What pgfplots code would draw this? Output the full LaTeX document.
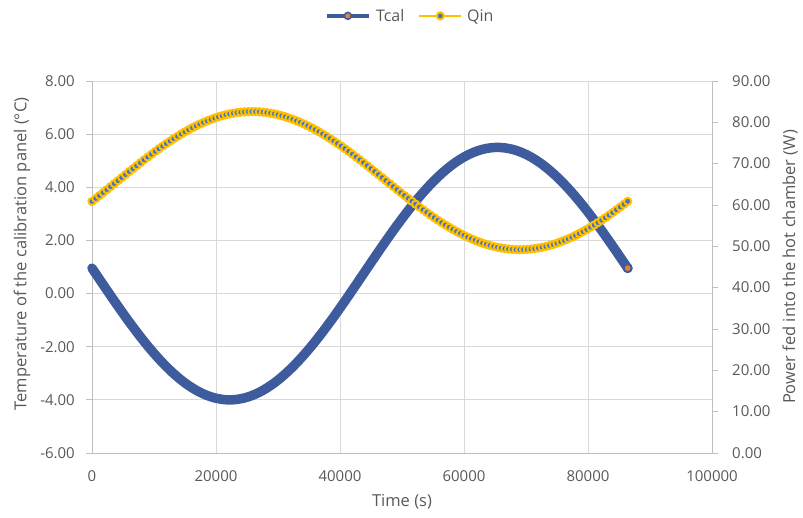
\documentclass[border=0pt]{standalone}
\usepackage{pgfplots}
\pgfplotsset{compat=1.18}
\usepackage{fontspec}
\setmainfont{Open Sans}

\definecolor{tcalblue}{RGB}{62,92,157}
\definecolor{tcalorange}{RGB}{237,125,49}
\definecolor{qinyellow}{RGB}{255,192,0}
\definecolor{qinblue}{RGB}{68,114,196}
\definecolor{gridgray}{RGB}{217,217,217}
\definecolor{axisgray}{RGB}{191,191,191}
\definecolor{textgray}{RGB}{89,89,89}

\tikzset{titlefont/.style={font=\fontsize{16.5}{20}\selectfont, text=textgray}}

\pgfplotsset{
  chartbase/.style={
    scale only axis, width=620pt, height=372pt,
    at={(0pt,0pt)}, anchor=south west,
    clip=false,
    xmin=0, xmax=100000,
    xtick={0,20000,40000,60000,80000,100000},
    scaled x ticks=false, scaled y ticks=false,
    /pgf/number format/assume math mode=true,
    xticklabel={\pgfmathprintnumber[fixed,precision=0,1000 sep={}]{\tick}},
    yticklabel={\pgfmathprintnumber[fixed,fixed zerofill,precision=2]{\tick}},
    tick align=outside, major tick length=6pt,
    xtick style={draw=none},
    ytick style={draw=axisgray, line width=0.75pt},
    axis line style={draw=axisgray, line width=0.75pt},
    tick label style={font=\fontsize{15}{18}\selectfont, text=textgray},
    legend image code/.code={%
      \draw[mark repeat=2,mark phase=2,##1] plot coordinates {(0pt,0pt) (21pt,0pt) (42pt,0pt)};},
  },
}

\begin{document}
\begin{tikzpicture}
\path[use as bounding box] (-92pt,-65pt) rectangle (711pt,453pt);

% primary axis: panel temperature
\begin{axis}[chartbase,
  ymin=-6, ymax=8, ytick={-6,-4,-2,0,2,4,6,8},
  axis x line*=bottom, axis y line*=left,
  xmajorgrids, ymajorgrids,
  major grid style={draw=gridgray, line width=0.75pt},
  xticklabel style={inner sep=0pt, anchor=north, yshift=-11pt},
  yticklabel style={inner sep=0pt, anchor=east, xshift=-11pt},
  xlabel={Time (s)},
  ylabel={Temperature of the calibration panel (°C)},
  every axis x label/.style={at={(axis description cs:0.5,-0.1317)}, anchor=center, titlefont},
  every axis y label/.style={at={(axis description cs:-0.1129,0.535)}, rotate=90, anchor=center, titlefont},
]
\addplot[tcalblue, line width=9.5pt, line join=round, line cap=round,
  mark=*, mark indices={145}, mark size=4pt,
  mark options={fill=tcalorange, draw=tcalblue, line width=2pt}]
coordinates {
(0,0.957) (600,0.750) (1200,0.543) (1800,0.336) (2400,0.130) (3000,-0.075)
(3600,-0.278) (4200,-0.479) (4800,-0.678) (5400,-0.875) (6000,-1.068) (6600,-1.257)
(7200,-1.443) (7800,-1.625) (8400,-1.802) (9000,-1.975) (9600,-2.142) (10200,-2.303)
(10800,-2.459) (11400,-2.609) (12000,-2.752) (12600,-2.889) (13200,-3.018) (13800,-3.141)
(14400,-3.256) (15000,-3.364) (15600,-3.463) (16200,-3.555) (16800,-3.638) (17400,-3.714)
(18000,-3.780) (18600,-3.838) (19200,-3.887) (19800,-3.928) (20400,-3.959) (21000,-3.982)
(21600,-3.996) (22200,-4.000) (22800,-3.996) (23400,-3.982) (24000,-3.959) (24600,-3.928)
(25200,-3.887) (25800,-3.838) (26400,-3.780) (27000,-3.714) (27600,-3.638) (28200,-3.555)
(28800,-3.463) (29400,-3.364) (30000,-3.256) (30600,-3.141) (31200,-3.018) (31800,-2.889)
(32400,-2.752) (33000,-2.609) (33600,-2.459) (34200,-2.303) (34800,-2.142) (35400,-1.975)
(36000,-1.802) (36600,-1.625) (37200,-1.443) (37800,-1.257) (38400,-1.068) (39000,-0.875)
(39600,-0.678) (40200,-0.479) (40800,-0.278) (41400,-0.075) (42000,0.130) (42600,0.336)
(43200,0.543) (43800,0.750) (44400,0.957) (45000,1.164) (45600,1.370) (46200,1.575)
(46800,1.778) (47400,1.979) (48000,2.178) (48600,2.375) (49200,2.568) (49800,2.757)
(50400,2.943) (51000,3.125) (51600,3.302) (52200,3.475) (52800,3.642) (53400,3.803)
(54000,3.959) (54600,4.109) (55200,4.252) (55800,4.389) (56400,4.518) (57000,4.641)
(57600,4.756) (58200,4.864) (58800,4.963) (59400,5.055) (60000,5.138) (60600,5.214)
(61200,5.280) (61800,5.338) (62400,5.387) (63000,5.428) (63600,5.459) (64200,5.482)
(64800,5.496) (65400,5.500) (66000,5.496) (66600,5.482) (67200,5.459) (67800,5.428)
(68400,5.387) (69000,5.338) (69600,5.280) (70200,5.214) (70800,5.138) (71400,5.055)
(72000,4.963) (72600,4.864) (73200,4.756) (73800,4.641) (74400,4.518) (75000,4.389)
(75600,4.252) (76200,4.109) (76800,3.959) (77400,3.803) (78000,3.642) (78600,3.475)
(79200,3.302) (79800,3.125) (80400,2.943) (81000,2.757) (81600,2.568) (82200,2.375)
(82800,2.178) (83400,1.979) (84000,1.778) (84600,1.575) (85200,1.370) (85800,1.164)
(86400,0.957)
};
\end{axis}

% secondary axis: heating power
\begin{axis}[chartbase,
  ymin=0, ymax=90, ytick={0,10,20,30,40,50,60,70,80,90},
  axis x line=none, axis y line*=right,
  yticklabel style={inner sep=0pt, anchor=west, xshift=14pt},
  ylabel={Power fed into the hot chamber (W)},
  every axis y label/.style={at={(axis description cs:1.1258,0.5)}, rotate=90, anchor=center, titlefont},
  legend style={at={(axis description cs:0.513,1.175)}, anchor=center,
    draw=none, fill=none, legend columns=-1,
    font=\fontsize{16}{19}\selectfont, text=textgray,
    /tikz/every odd column/.append style={column sep=3pt},
    /tikz/every even column/.append style={column sep=12pt}},
]
\addlegendimage{tcalblue, line width=4.5pt,
  mark=*, mark size=3.5pt,
  mark options={fill=tcalorange, draw=tcalblue, line width=1.5pt}}
\addlegendentry{Tcal}
\addplot[qinyellow, line width=1.8pt,
  mark=*, mark size=3.6pt,
  mark options={fill=qinblue, draw=qinyellow, line width=2pt}]
coordinates {
(0,60.878) (600,61.578) (1200,62.285) (1800,63.000) (2400,63.720) (3000,64.444)
(3600,65.172) (4200,65.900) (4800,66.628) (5400,67.356) (6000,68.080) (6600,68.800)
(7200,69.515) (7800,70.222) (8400,70.922) (9000,71.612) (9600,72.291) (10200,72.958)
(10800,73.611) (11400,74.250) (12000,74.873) (12600,75.479) (13200,76.066) (13800,76.635)
(14400,77.182) (15000,77.709) (15600,78.213) (16200,78.693) (16800,79.149) (17400,79.580)
(18000,79.985) (18600,80.363) (19200,80.713) (19800,81.035) (20400,81.329) (21000,81.593)
(21600,81.827) (22200,82.031) (22800,82.204) (23400,82.346) (24000,82.457) (24600,82.536)
(25200,82.584) (25800,82.600) (26400,82.584) (27000,82.536) (27600,82.457) (28200,82.346)
(28800,82.204) (29400,82.031) (30000,81.827) (30600,81.593) (31200,81.329) (31800,81.035)
(32400,80.713) (33000,80.363) (33600,79.985) (34200,79.580) (34800,79.149) (35400,78.693)
(36000,78.213) (36600,77.709) (37200,77.182) (37800,76.635) (38400,76.066) (39000,75.479)
(39600,74.873) (40200,74.250) (40800,73.611) (41400,72.958) (42000,72.291) (42600,71.612)
(43200,70.922) (43800,70.222) (44400,69.515) (45000,68.800) (45600,68.080) (46200,67.356)
(46800,66.628) (47400,65.900) (48000,65.172) (48600,64.444) (49200,63.720) (49800,63.000)
(50400,62.285) (51000,61.578) (51600,60.878) (52200,60.188) (52800,59.509) (53400,58.842)
(54000,58.189) (54600,57.550) (55200,56.927) (55800,56.321) (56400,55.734) (57000,55.165)
(57600,54.618) (58200,54.091) (58800,53.587) (59400,53.107) (60000,52.651) (60600,52.220)
(61200,51.815) (61800,51.437) (62400,51.087) (63000,50.765) (63600,50.471) (64200,50.207)
(64800,49.973) (65400,49.769) (66000,49.596) (66600,49.454) (67200,49.343) (67800,49.264)
(68400,49.216) (69000,49.200) (69600,49.216) (70200,49.264) (70800,49.343) (71400,49.454)
(72000,49.596) (72600,49.769) (73200,49.973) (73800,50.207) (74400,50.471) (75000,50.765)
(75600,51.087) (76200,51.437) (76800,51.815) (77400,52.220) (78000,52.651) (78600,53.107)
(79200,53.587) (79800,54.091) (80400,54.618) (81000,55.165) (81600,55.734) (82200,56.321)
(82800,56.927) (83400,57.550) (84000,58.189) (84600,58.842) (85200,59.509) (85800,60.188)
(86400,60.878)
};
\addlegendentry{Qin}
\end{axis}
\end{tikzpicture}
\end{document}
